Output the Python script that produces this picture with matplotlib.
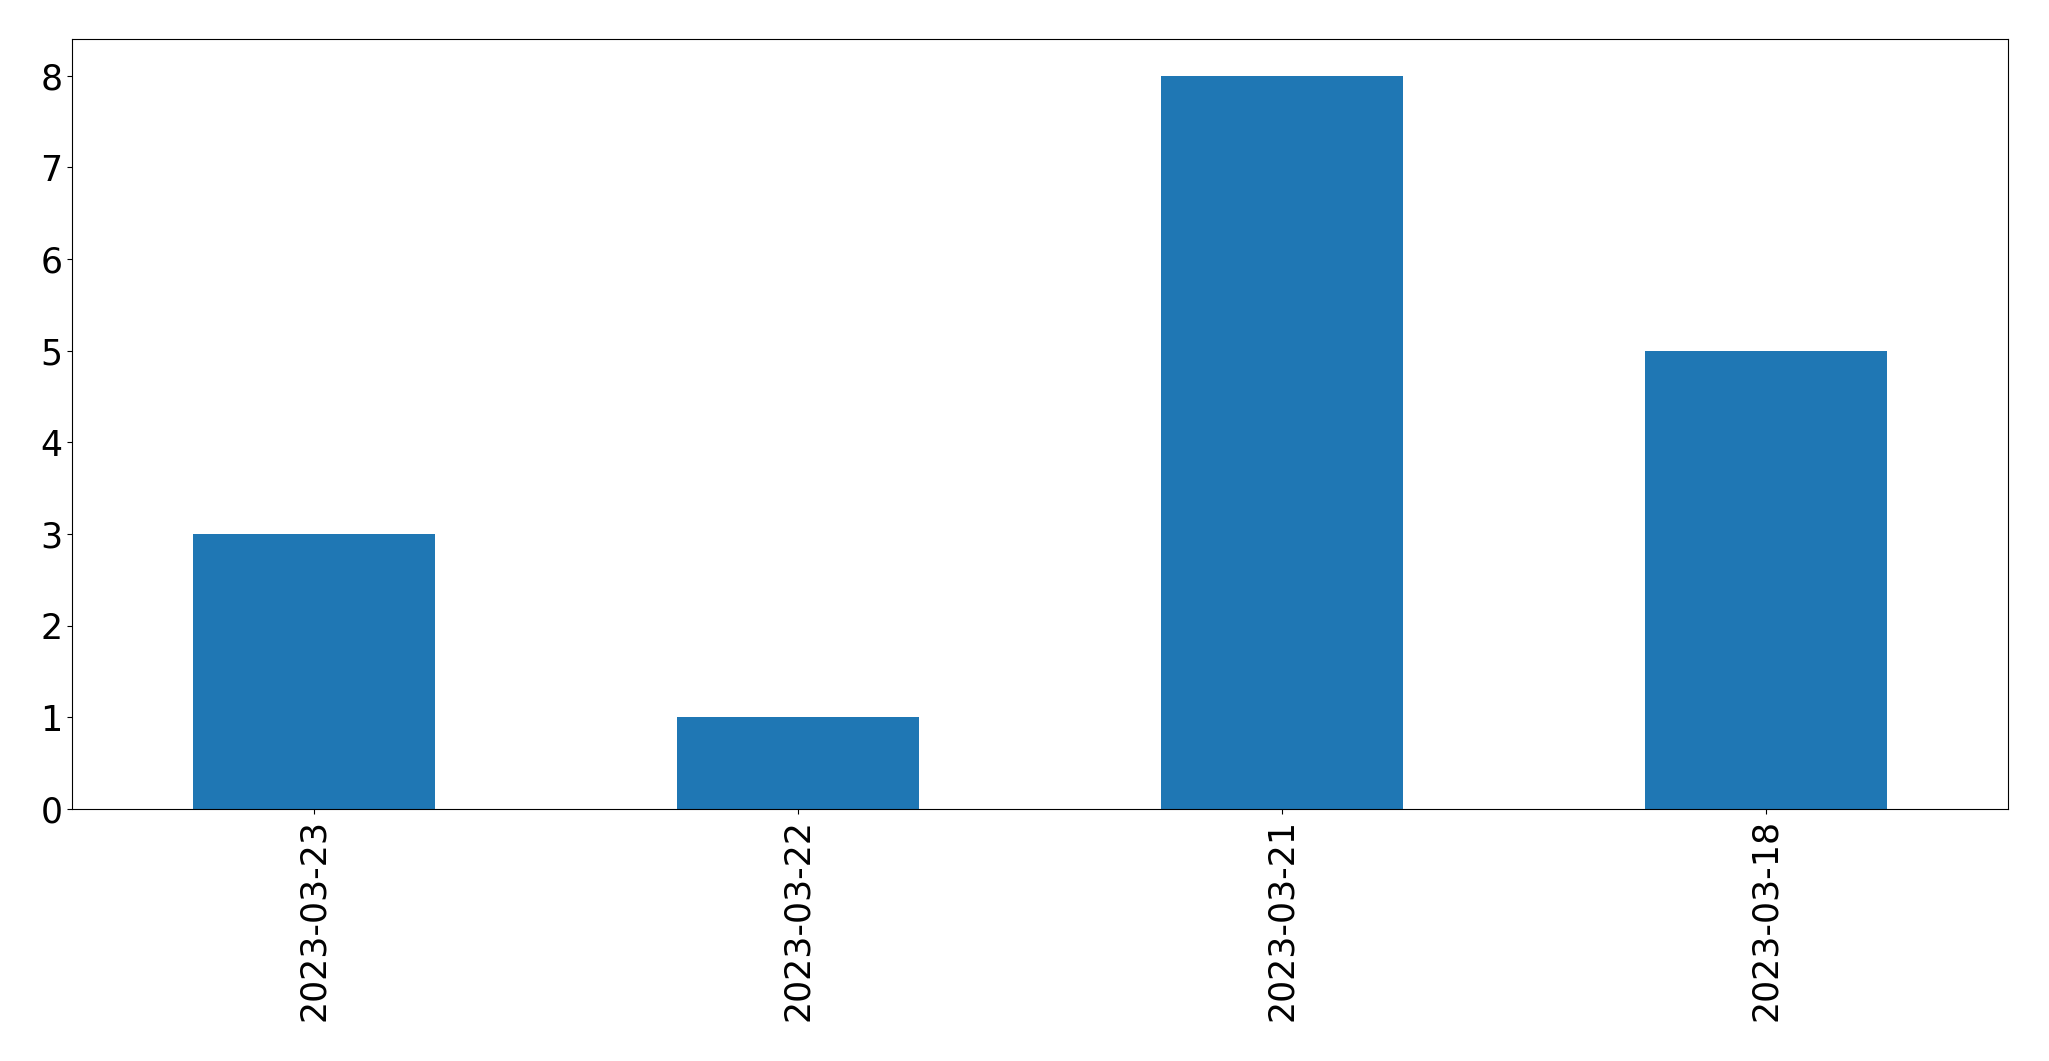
import matplotlib
matplotlib.use("Agg")
import matplotlib.pyplot as plt
import pandas as pd

dates = ["2023-03-23", "2023-03-22", "2023-03-21", "2023-03-18"]
counts = [3, 1, 8, 5]

fig = plt.figure(figsize=(20.49, 10.61), dpi=100)
ax = fig.add_axes([72/2049, 1 - 809/1061, (2008-72)/2049, (809-39)/1061])
s = pd.Series(counts, index=dates)
s.plot(kind="bar", ax=ax, color="#1f77b4", fontsize=25)
ax.tick_params(labelsize=25)
fig.savefig("out.png", dpi=100)
